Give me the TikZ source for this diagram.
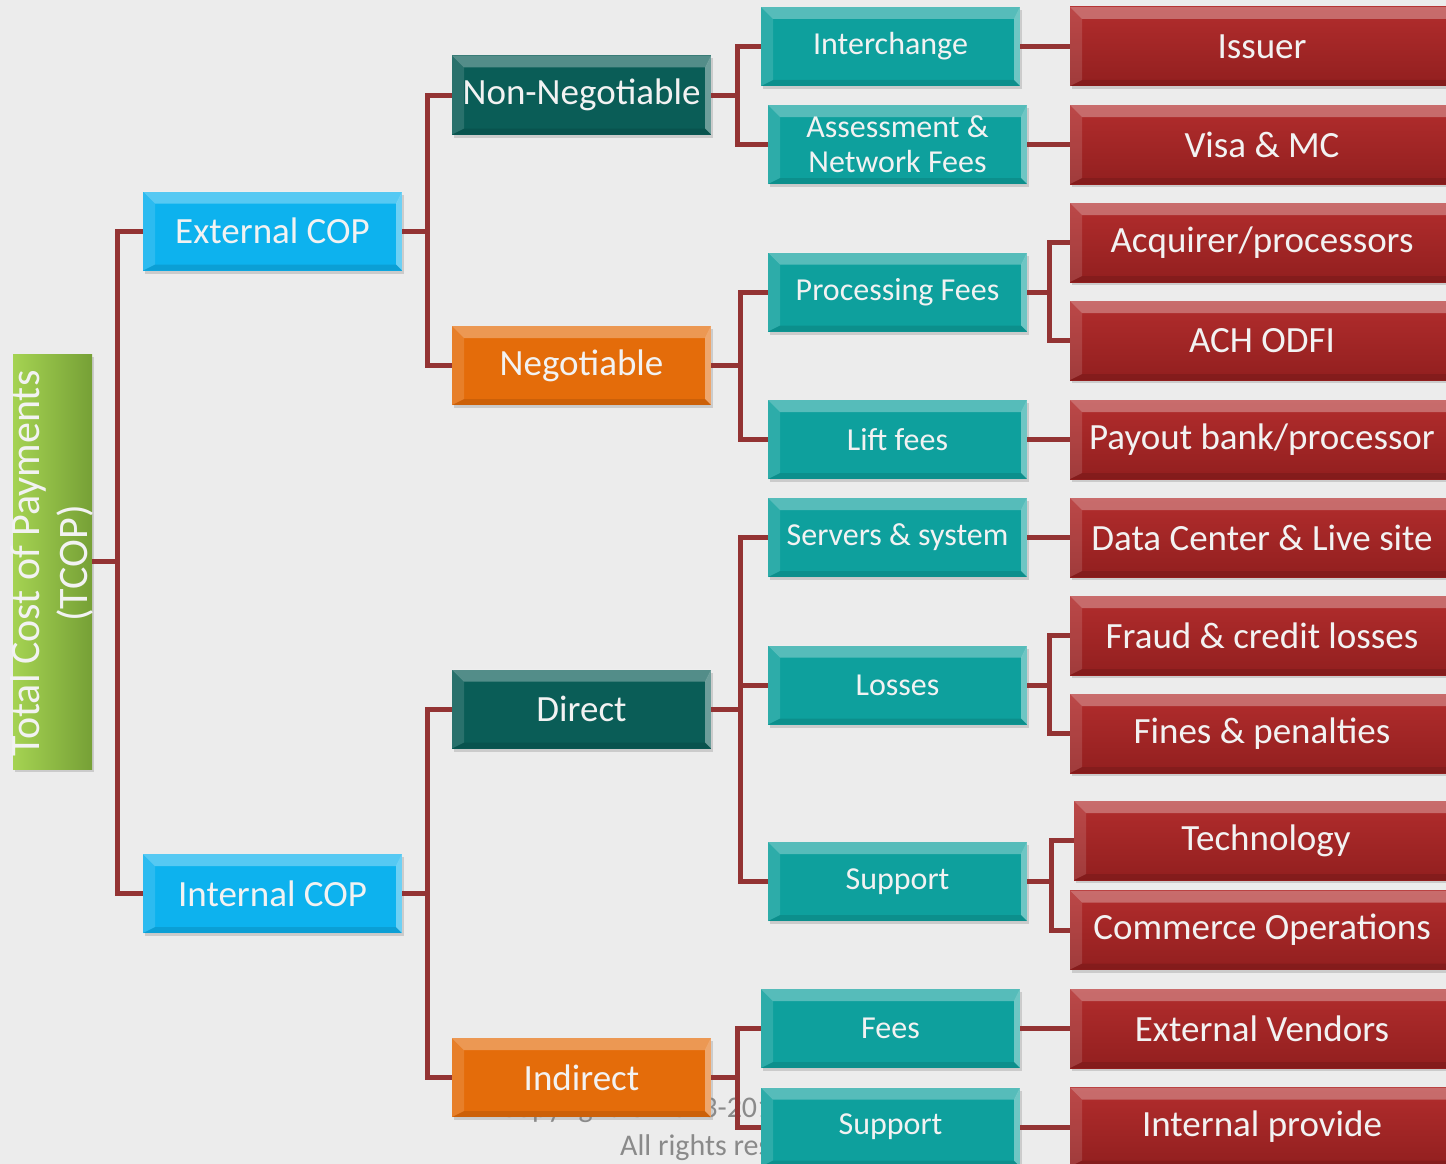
\documentclass[tikz,border=0pt]{standalone}
\usepackage{fontspec}
\setmainfont{Carlito}
\usetikzlibrary{shadows}

\definecolor{bgc}{HTML}{ECECEC}
\definecolor{linkc}{HTML}{933333}
\definecolor{skyb}{HTML}{0DB2EE}
\definecolor{deept}{HTML}{0A5D57}
\definecolor{orng}{HTML}{E46C0A}
\definecolor{tealc}{HTML}{0EA09D}
\definecolor{redtop}{HTML}{B22D2D}
\definecolor{redbot}{HTML}{921F1F}
\definecolor{txtc}{HTML}{F2F2F2}
\definecolor{grnl}{HTML}{A5D352}
\definecolor{grnr}{HTML}{76A036}
\definecolor{copyc}{HTML}{8A8A8A}

\tikzset{
  f42/.style={font=\fontsize{42}{48}\selectfont},
  f37/.style={font=\fontsize{37}{42}\selectfont},
  f32/.style={font=\fontsize{32}{35}\selectfont},
  f30/.style={font=\fontsize{30}{35}\selectfont},
  % bevelled edges drawn inside every box
  bev/.style={path picture={
    \coordinate (q1) at (path picture bounding box.north west);
    \coordinate (q2) at (path picture bounding box.north east);
    \coordinate (q3) at (path picture bounding box.south east);
    \coordinate (q4) at (path picture bounding box.south west);
    \fill[white,opacity=0.30] (q1) -- (q2) -- ([shift={(-6pt,-12pt)}]q2) -- ([shift={(12pt,-12pt)}]q1) -- cycle;
    \fill[white,opacity=0.13] (q1) -- ([shift={(12pt,-12pt)}]q1) -- ([shift={(12pt,6pt)}]q4) -- (q4) -- cycle;
    \fill[white,opacity=0.40] (q2) -- (q3) -- ([shift={(-6pt,6pt)}]q3) -- ([shift={(-6pt,-12pt)}]q2) -- cycle;
    \fill[black,opacity=0.10] (q4) -- ([shift={(12pt,6pt)}]q4) -- ([shift={(-6pt,6pt)}]q3) -- (q3) -- cycle;
  }},
  box/.style={rectangle, inner sep=0pt, minimum width=259pt, minimum height=79pt,
    text=txtc, align=center, bev,
    drop shadow={shadow xshift=2pt, shadow yshift=-3pt, opacity=0.3}},
  lvlone/.style={box, fill=skyb, f37},
  lvltwoa/.style={box, fill=deept, f37},
  lvltwob/.style={box, fill=orng, f37},
  lvlthree/.style={box, fill=tealc, f32},
  lvlfour/.style={box, minimum width=384pt, top color=redtop, bottom color=redbot, f37},
  rootbox/.style={rectangle, inner sep=0pt, minimum width=79pt, minimum height=415pt,
    left color=grnl, right color=grnr,
    drop shadow={shadow xshift=2pt, shadow yshift=-3pt, opacity=0.3}},
  link/.style={draw=linkc, line width=5pt, line join=miter},
  copytxt/.style={text=copyc, f30, inner sep=0pt}
}

\begin{document}
\begin{tikzpicture}[x=1pt, y=-1pt]
\useasboundingbox (0,0) rectangle (1446,1164);
\clip (0,0) rectangle (1446,1164);
\fill[bgc] (0,0) rectangle (1446,1164);

% copyright notice, partly hidden behind the boxes
\node[copytxt, anchor=base west] (crone) at (500,1117) {Copyright © 2013-2014};
\node[copytxt, anchor=base west] (crtwo) at (620,1155) {All rights reserved};

% root
\node[rootbox] (root) at (52.5,561.5) {};
\node[rotate=90, text=txtc, f42, align=center, inner sep=0pt] (roottxt) at ([xshift=-1pt,yshift=-2pt]root.center)
  {Total Cost of Payments\\(TCOP)};

% first level
\node[lvlone] (ext) at (272.5,231) {External COP};
\node[lvlone] (int) at (272.5,893.5) {Internal COP};

% second level
\node[lvltwoa] (nonneg) at (581.5,95) {Non-Negotiable};
\node[lvltwob] (neg) at (581.5,365.5) {Negotiable};
\node[lvltwoa] (direct) at (581.5,709) {Direct};
\node[lvltwob] (indirect) at (581.5,1077.5) {Indirect};

% third level
\node[lvlthree] (interch) at (890.5,46.5) {Interchange};
\node[lvlthree] (assess) at (897.5,144.5) {Assessment \&\\Network Fees};
\node[lvlthree] (proc) at (897.5,292) {Processing Fees};
\node[lvlthree] (lift) at (897.5,439.5) {Lift fees};
\node[lvlthree] (servers) at (897.5,537.5) {Servers \& system};
\node[lvlthree] (losses) at (897.5,685) {Losses};
\node[lvlthree] (suppa) at (897.5,881.5) {Support};
\node[lvlthree] (fees) at (890.5,1028.5) {Fees};
\node[lvlthree] (suppb) at (890.5,1127) {Support};

% fourth level
\node[lvlfour] (issuer) at (1262,46.5) {Issuer};
\node[lvlfour] (visa) at (1262,144.5) {Visa \& MC};
\node[lvlfour] (acq) at (1262,242.5) {Acquirer/processors};
\node[lvlfour] (ach) at (1262,340.5) {ACH ODFI};
\node[lvlfour] (payout) at (1262,439.5) {Payout bank/processor};
\node[lvlfour] (datac) at (1262,537.5) {Data Center \& Live site};
\node[lvlfour] (fraud) at (1262,635.5) {Fraud \& credit losses};
\node[lvlfour] (fines) at (1262,733.5) {Fines \& penalties};
\node[lvlfour] (tech) at (1266,840.5) {Technology};
\node[lvlfour] (commerce) at (1262,930) {Commerce Operations};
\node[lvlfour] (extv) at (1262,1028.5) {External Vendors};
\node[lvlfour] (intp) at (1262,1127) {Internal provide};

% junction points of the connectors
\coordinate (jroot) at (117,561.5);
\coordinate (jext) at (427,231);
\coordinate (jint) at (427,893.5);
\coordinate (jnonneg) at (737,95);
\coordinate (jneg) at (740,365.5);
\coordinate (jdirect) at (740,709);
\coordinate (jindirect) at (737,1077.5);
\coordinate (jproc) at (1049,292);
\coordinate (jlosses) at (1049,685);
\coordinate (jsuppa) at (1051,881.5);

% connectors
\draw[link] (root.east) -- (jroot);
\draw[link] (ext.west) -| (jroot) |- (int.west);

\draw[link] (ext.east) -- (jext);
\draw[link] (nonneg.west) -| (jext) |- (neg.west);
\draw[link] (int.east) -- (jint);
\draw[link] (direct.west) -| (jint) |- (indirect.west);

\draw[link] (nonneg.east) -- (jnonneg);
\draw[link] (interch.west) -| (jnonneg) |- (assess.west);
\draw[link] (neg.east) -- (jneg);
\draw[link] (proc.west) -| (jneg) |- (lift.west);
\draw[link] (direct.east) -- (jdirect);
\draw[link] (servers.west) -| (jdirect) |- (suppa.west);
\draw[link] (losses.west) -- (losses.west -| jdirect);
\draw[link] (indirect.east) -- (jindirect);
\draw[link] (fees.west) -| (jindirect) |- (suppb.west);

\draw[link] (interch.east) -- (issuer.west);
\draw[link] (assess.east) -- (visa.west);
\draw[link] (proc.east) -- (jproc);
\draw[link] (acq.west) -| (jproc) |- (ach.west);
\draw[link] (lift.east) -- (payout.west);
\draw[link] (servers.east) -- (datac.west);
\draw[link] (losses.east) -- (jlosses);
\draw[link] (fraud.west) -| (jlosses) |- (fines.west);
\draw[link] (suppa.east) -- (jsuppa);
\draw[link] (tech.west) -| (jsuppa) |- (commerce.west);
\draw[link] (fees.east) -- (extv.west);
\draw[link] (suppb.east) -- (intp.west);
\end{tikzpicture}
\end{document}
